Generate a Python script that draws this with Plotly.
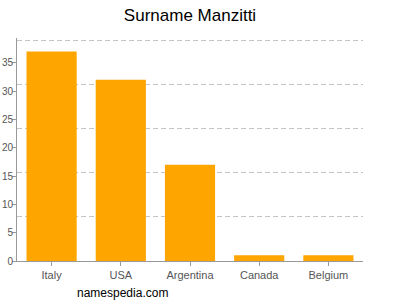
import plotly.graph_objects as go

countries = ["Italy", "USA", "Argentina", "Canada", "Belgium"]
counts = [37, 32, 17, 1, 1]
label_ticks = [0, 5, 10, 15, 20, 25, 30, 35]
y_max = 39
grid_ticks = [y_max * i / 5 for i in range(6)]
y_range = [0, y_max * 1.01]

fig = go.Figure()
fig.add_trace(go.Bar(x=countries, y=counts, marker_color="#ffa500",
                     marker_line_width=0, hoverinfo="skip"))
fig.add_trace(go.Scatter(x=countries, y=counts, yaxis="y2", mode="markers",
                         marker=dict(opacity=0), hoverinfo="skip", showlegend=False))

fig.update_layout(
    width=400, height=300,
    margin=dict(l=17, r=37, t=38, b=39, autoexpand=False),
    paper_bgcolor="white", plot_bgcolor="white",
    showlegend=False, bargap=0.275,
    title=dict(text="Surname Manzitti", x=0.475, xanchor="center", y=0.95, yanchor="middle",
               font=dict(family="Liberation Sans, Arial", size=17, color="#000")),
    font=dict(family="Liberation Sans, Arial", size=11, color="#555"),
    xaxis=dict(showline=True, linecolor="#999", linewidth=1, ticks="outside",
               ticklen=4, tickcolor="#999", showgrid=False, automargin=False,
               tickfont=dict(size=11, color="#555")),
    yaxis=dict(range=y_range, tickvals=grid_ticks, showticklabels=False, automargin=False,
               showgrid=True, gridcolor="#c4c4c4", griddash="5px,3px", gridwidth=1,
               showline=True, linecolor="#999", linewidth=1, zeroline=False, ticks=""),
    yaxis2=dict(range=y_range, overlaying="y", side="left", tickvals=label_ticks,
                showgrid=False, zeroline=False, ticks="outside", ticklen=4, tickcolor="#999",
                ticklabelstandoff=-3,
                automargin=False, tickfont=dict(size=10, color="#555"), showline=False),
    annotations=[dict(text="namespedia.com", xref="paper", yref="paper", x=0.168, y=-0.105,
                      xanchor="left", yanchor="top", showarrow=False,
                      font=dict(family="Liberation Sans, Arial", size=12, color="#000"))],
)

fig.write_html("out.html")
